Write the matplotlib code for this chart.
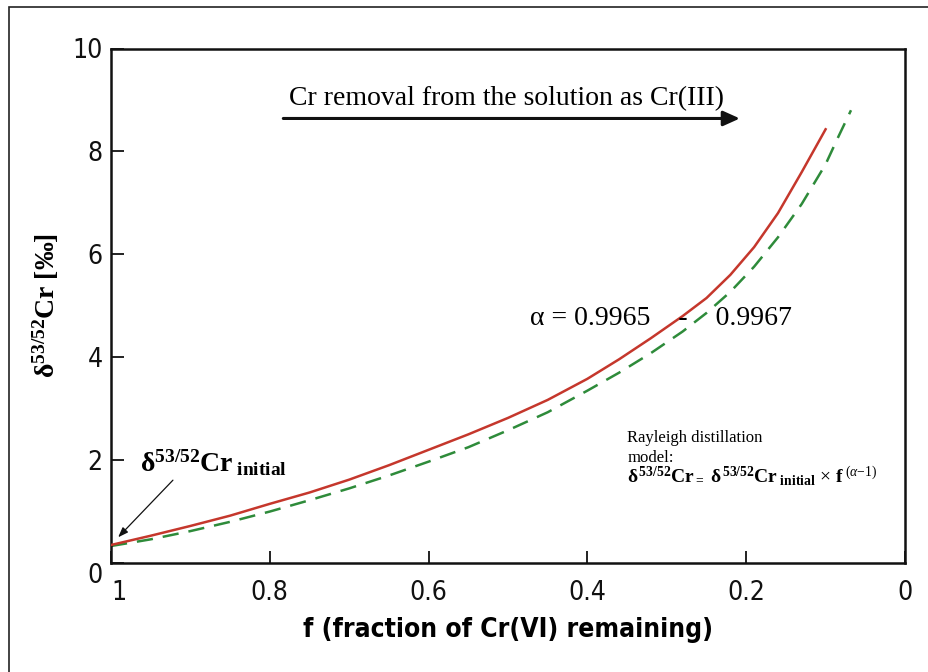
import matplotlib.pyplot as plt
from matplotlib.patches import Rectangle

plt.rcParams['mathtext.fontset'] = 'custom'
plt.rcParams['mathtext.rm'] = 'Liberation Serif'
plt.rcParams['mathtext.it'] = 'Liberation Serif:italic'
plt.rcParams['mathtext.bf'] = 'Liberation Serif:bold'

# values (f, delta 53/52 Cr in permil)
f_red = [1.0, 0.95, 0.90, 0.85, 0.80, 0.75, 0.70, 0.65, 0.60, 0.55, 0.50,
         0.45, 0.40, 0.36, 0.32, 0.28, 0.25, 0.22, 0.19, 0.16, 0.13, 0.10]
d_red = [0.35, 0.53, 0.72, 0.92, 1.15, 1.37, 1.62, 1.90, 2.20, 2.50, 2.82,
         3.17, 3.58, 3.96, 4.37, 4.80, 5.15, 5.60, 6.14, 6.80, 7.60, 8.43]

f_green = [1.0, 0.95, 0.90, 0.85, 0.80, 0.75, 0.70, 0.65, 0.60, 0.55, 0.50,
           0.45, 0.40, 0.36, 0.32, 0.28, 0.25, 0.22, 0.19, 0.16, 0.13, 0.10,
           0.085, 0.068]
d_green = [0.33, 0.46, 0.62, 0.80, 1.00, 1.22, 1.45, 1.70, 1.97, 2.25, 2.58,
           2.93, 3.35, 3.70, 4.08, 4.50, 4.86, 5.27, 5.76, 6.33, 6.98, 7.75,
           8.25, 8.80]

xticks = [1, 0.8, 0.6, 0.4, 0.2, 0]
xticklabels = ['1', '0.8', '0.6', '0.4', '0.2', '0']
yticks = [0, 2, 4, 6, 8, 10]

W, H = 929, 672
fig = plt.figure(figsize=(W / 100, H / 100), dpi=100)
ax = fig.add_axes([111 / W, 1 - 563 / H, (905 - 111) / W, (563 - 48.5) / H])

ax.plot(f_red, d_red, color='#c5372c', lw=1.8, zorder=3)
ax.plot(f_green, d_green, color='#2e8b3a', lw=1.8, ls=(0, (6.5, 4)), zorder=2)

ax.set_xlim(1, 0)
ax.set_ylim(0, 10)
ax.set_xticks(xticks)
ax.set_xticklabels(xticklabels)
ax.set_yticks(yticks)

tickfont = ['DejaVu Sans']
ax.tick_params(direction='in', length=9, width=1.3, labelsize=19, colors='#111111')
ax.tick_params(axis='x', pad=12)
ax.tick_params(axis='y', pad=6)
for lab in ax.get_xticklabels() + ax.get_yticklabels():
    lab.set_family(tickfont)
    lab.set_fontstretch('condensed')
ax.get_yticklabels()[0].set_va('top')
ax.get_xticklabels()[0].set_ha('left')
for s in ax.spines.values():
    s.set_linewidth(1.8)
    s.set_color('#111111')

ax.set_xlabel('f (fraction of Cr(VI) remaining)', family=tickfont, fontstretch='condensed',
              fontweight='bold', fontsize=19, labelpad=8)
ax.set_ylabel(r'$\mathbf{\delta^{53/52}Cr}$ [‰]', family='Liberation Serif',
              fontweight='bold', fontsize=20, labelpad=8)

ax.text(0.502, 8.9, 'Cr removal from the solution as Cr(III)', family='Liberation Serif',
        fontsize=20, ha='center', va='baseline')
ax.annotate('', xy=(0.208, 8.64), xytext=(0.783, 8.64),
            arrowprops=dict(arrowstyle='-|>,head_length=1.0,head_width=0.45',
                            lw=2.2, color='#111111', shrinkA=0, shrinkB=0))

ax.text(0.472, 4.62, 'α = 0.9965    -    0.9967', family='Liberation Serif',
        fontsize=20, va='baseline')

ax.text(0.963, 1.77, r'$\mathbf{\delta^{53/52}Cr}$$_{\mathbf{\ initial}}$',
        family='Liberation Serif', fontsize=20, va='baseline')
ax.annotate('', xy=(0.991, 0.50), xytext=(0.922, 1.61),
            arrowprops=dict(arrowstyle='-|>,head_length=0.6,head_width=0.22',
                            lw=0.9, color='#111111', shrinkA=0, shrinkB=0))

ax.text(0.35, 2.35, 'Rayleigh distillation', family='Liberation Serif', fontsize=12,
        va='baseline')
ax.text(0.35, 1.96, 'model:', family='Liberation Serif', fontsize=12, va='baseline')
ax.text(0.35, 1.55,
        r'$\mathbf{\delta^{\,53/52}Cr}$$_=$ $\mathbf{\delta^{\,53/52}Cr}$$_{\mathbf{\ initial}}$'
        r' $\times$ $\mathbf{f}^{\ (\alpha\mathrm{-1})}$',
        family='Liberation Serif', fontsize=14, va='baseline')

# outer frame of the original figure
fig.patches.append(Rectangle((9 / W, -0.1), 1.2, 1 - 7 / H + 0.1, transform=fig.transFigure,
                             fill=False, lw=1.2, edgecolor='#222222'))

fig.savefig('out.png', dpi=100)
